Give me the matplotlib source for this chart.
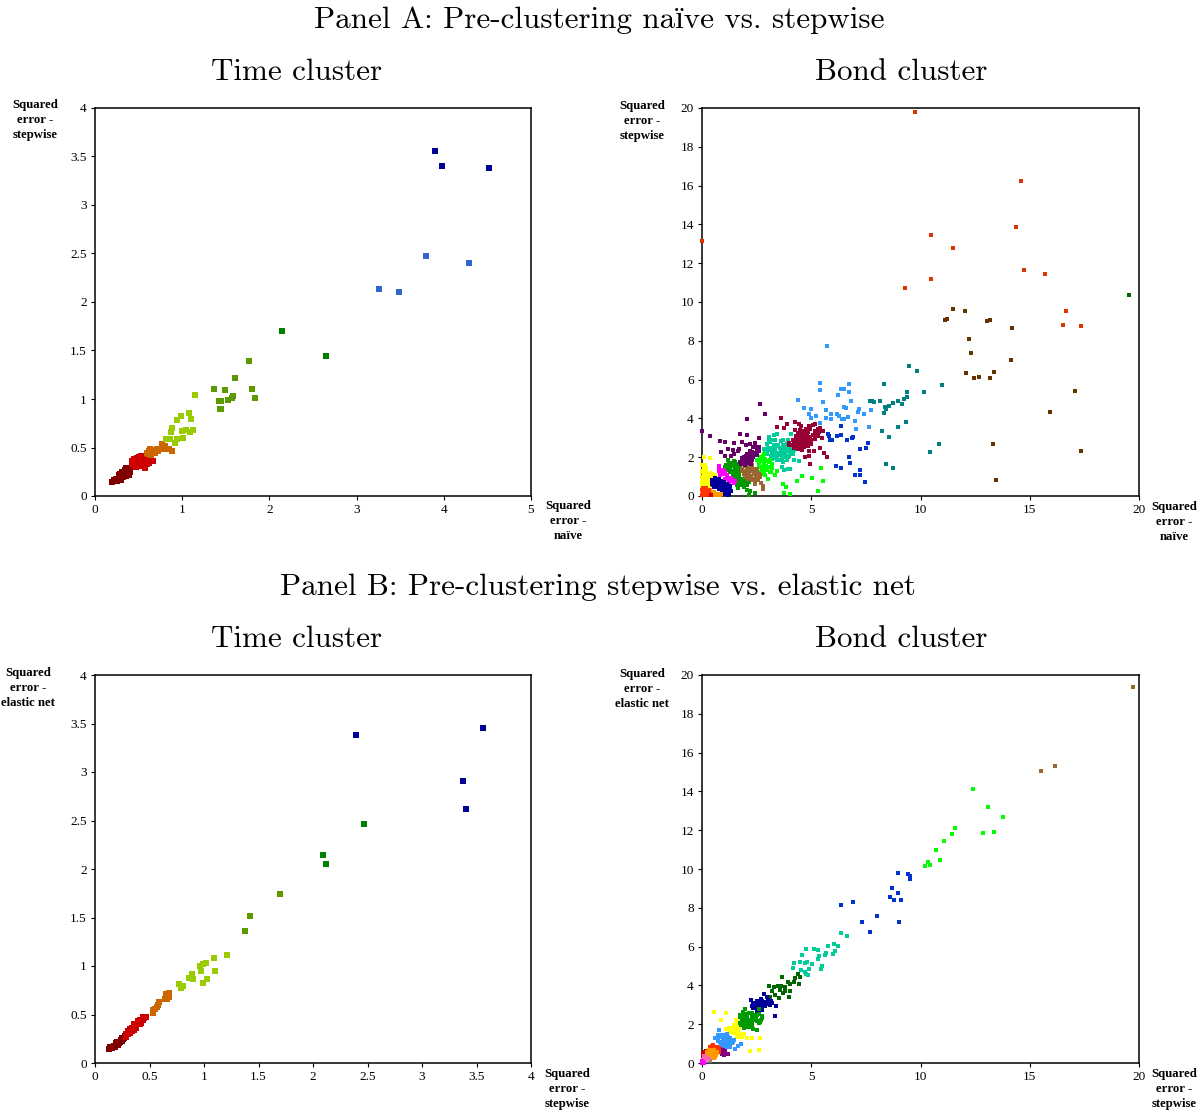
import matplotlib
matplotlib.use('Agg')
import matplotlib.pyplot as plt

plt.rcParams['font.family'] = ['Liberation Serif', 'DejaVu Serif']
plt.rcParams['axes.unicode_minus'] = False

# Panel A, time cluster (naive, stepwise)
a_time_navy = [(3.9, 3.56), (3.98, 3.40), (4.52, 3.38)]
a_time_blue = [(3.26, 2.13), (3.49, 2.10), (3.80, 2.47), (4.29, 2.40)]
a_time_green = [(2.15, 1.70), (2.65, 1.44)]
a_time_olive = [(1.37, 1.10), (1.49, 1.09), (1.77, 1.39), (1.61, 1.22), (1.80, 1.10), (1.83, 1.01), (1.58, 1.03),
                (1.57, 1.01), (1.52, 0.99), (1.44, 0.975), (1.42, 0.975), (1.44, 0.90), (1.43, 0.90)]
a_time_lime = [(1.15, 1.04), (1.08, 0.86), (0.99, 0.82), (0.94, 0.78), (1.10, 0.79), (1.12, 0.68), (1.09, 0.66),
               (1.04, 0.685), (1.0, 0.675), (0.885, 0.70), (0.87, 0.655), (0.86, 0.59), (0.81, 0.59), (1.01, 0.60),
               (0.94, 0.585), (0.915, 0.545)]
a_time_orange = [(0.77, 0.54), (0.80, 0.515), (0.775, 0.48), (0.85, 0.485), (0.885, 0.465), (0.71, 0.48), (0.67, 0.475),
                 (0.63, 0.455), (0.61, 0.43), (0.65, 0.44), (0.69, 0.44), (0.63, 0.48), (0.62, 0.46), (0.66, 0.46),
                 (0.7, 0.47), (0.6, 0.44), (0.65, 0.47), (0.72, 0.46), (0.64, 0.42)]
a_time_red = [(0.42, 0.33), (0.45, 0.38), (0.48, 0.36), (0.5, 0.4), (0.47, 0.30), (0.53, 0.41), (0.55, 0.37), (0.52, 0.32),
              (0.57, 0.29), (0.56, 0.33), (0.6, 0.39), (0.6, 0.33), (0.63, 0.36), (0.66, 0.36), (0.45, 0.32), (0.58, 0.41),
              (0.62, 0.41), (0.43, 0.36), (0.46, 0.35), (0.5, 0.35), (0.54, 0.35), (0.58, 0.35), (0.62, 0.34), (0.5, 0.31),
              (0.55, 0.41), (0.48, 0.39), (0.52, 0.37)]
a_time_maroon = [(0.2, 0.14), (0.25, 0.15), (0.24, 0.18), (0.3, 0.17), (0.28, 0.2), (0.27, 0.22), (0.32, 0.2), (0.36, 0.21),
                 (0.31, 0.25), (0.34, 0.27), (0.36, 0.29), (0.4, 0.25), (0.42, 0.3), (0.38, 0.27), (0.33, 0.23), (0.22, 0.16),
                 (0.26, 0.18), (0.29, 0.23), (0.33, 0.25), (0.35, 0.24), (0.37, 0.26), (0.4, 0.28), (0.27, 0.16), (0.3, 0.22),
                 (0.39, 0.22)]

# Panel A, bond cluster (naive, stepwise)
a_bond_dkgreen = [(19.56, 10.36)]
a_bond_rust = [(9.76, 19.81), (14.59, 16.24), (14.38, 13.85), (10.46, 13.45), (11.51, 12.77), (14.73, 11.63), (15.69, 11.44),
               (10.46, 11.17), (9.28, 10.7), (16.68, 9.55), (16.54, 8.81), (17.36, 8.75), (0.0, 13.15)]
a_bond_dkbrown = [(11.48, 9.64), (12.03, 9.52), (11.23, 9.12), (11.13, 9.07), (13.16, 9.09), (13.05, 9.02), (14.18, 8.66),
                  (12.2, 8.09), (12.33, 7.39), (14.15, 7.01), (12.09, 6.32), (13.37, 6.39), (12.7, 6.12), (12.47, 6.08),
                  (13.16, 6.08), (17.09, 5.4), (15.93, 4.31), (13.32, 2.68), (17.33, 2.3), (13.46, 0.84)]
a_bond_teal = [(9.48, 6.72), (9.86, 6.46), (8.34, 5.79), (10.99, 5.72), (9.36, 5.36), (10.18, 5.38), (9.39, 5.09), (9.25, 5.02),
               (9.15, 4.76), (8.95, 4.88), (8.75, 4.79), (8.55, 4.64), (8.38, 4.59), (8.4, 4.47), (8.34, 4.3), (8.13, 4.88),
               (7.85, 4.85), (7.77, 4.9), (7.67, 4.88), (9.33, 3.83), (8.98, 3.56), (8.26, 3.37), (8.57, 3.02), (10.85, 2.66),
               (10.44, 2.29), (8.4, 1.67), (8.73, 1.43)]
a_bond_sky = [(5.73, 7.73), (5.41, 5.81), (6.75, 5.76), (5.38, 5.46), (6.36, 5.53), (6.48, 5.5), (6.72, 5.38), (6.23, 5.19),
              (4.39, 4.95), (5.56, 4.83), (6.81, 4.91), (4.66, 4.54), (5.0, 4.47), (5.69, 4.42), (6.48, 4.59), (6.6, 4.54),
              (7.16, 4.33), (7.2, 4.5), (7.74, 4.42), (4.91, 4.21), (5.0, 4.04), (5.24, 4.11), (5.66, 4.04), (5.91, 4.23),
              (5.9, 3.95), (6.2, 4.24), (6.28, 4.12), (6.42, 3.95), (6.5, 3.99), (6.66, 4.05), (6.98, 3.87), (7.42, 4.23),
              (5.41, 3.75), (7.03, 3.45), (7.64, 3.56)]
a_bond_blue = [(6.34, 3.59), (5.75, 3.21), (5.79, 3.08), (5.84, 2.87), (5.95, 2.9), (6.17, 3.09), (6.37, 3.13), (6.62, 2.9),
               (6.89, 3.04), (6.86, 2.99), (7.61, 2.75), (7.24, 2.44), (7.52, 2.49), (6.75, 2.01), (6.78, 1.7), (6.14, 1.56),
               (6.37, 1.44), (7.24, 1.32), (7.0, 1.07), (7.23, 1.1), (7.44, 0.72)]
a_bond_crimson = [(3.61, 4.02), (3.89, 3.73), (3.43, 3.56), (3.75, 3.52), (4.25, 3.81), (4.42, 3.69), (4.54, 3.59), (4.27, 3.42),
                  (4.47, 3.38), (4.65, 3.33), (4.88, 3.59), (5.06, 3.64), (5.15, 3.69), (5.41, 3.52), (5.53, 3.33), (5.37, 3.3),
                  (5.18, 3.33), (5.3, 3.08), (5.49, 3.01), (5.06, 3.13), (4.8, 3.13), (4.6, 3.13), (4.42, 3.08), (4.6, 2.87),
                  (5.0, 2.9), (4.8, 2.78), (4.42, 2.9), (4.19, 2.78), (3.99, 2.61), (4.27, 2.61), (4.5, 2.66), (4.65, 2.53),
                  (4.39, 2.44), (4.57, 2.35), (4.88, 2.32), (5.14, 2.34), (5.41, 2.49), (5.59, 2.2), (5.73, 2.01), (4.91, 2.06),
                  (4.73, 2.01), (4.94, 1.63), (4.0, 2.75), (4.15, 2.9), (4.3, 2.75), (4.45, 2.75), (4.1, 2.65), (4.2, 2.5),
                  (4.35, 2.55), (4.55, 2.5), (4.7, 2.65), (4.85, 2.6), (4.3, 3.1), (4.5, 3.05), (4.65, 2.95), (4.8, 2.95),
                  (4.95, 3.05), (4.55, 3.3), (4.75, 3.45), (4.4, 3.25), (4.85, 3.3), (5.2, 3.15), (5.15, 2.95), (5.0, 2.7),
                  (4.55, 2.75), (4.35, 2.95), (4.7, 2.8), (5.3, 3.45), (4.95, 3.45)]
a_bond_jade = [(3.08, 3.04), (3.28, 3.13), (3.43, 3.21), (3.13, 2.78), (3.35, 2.87), (3.69, 2.9), (3.93, 2.87), (4.09, 3.21),
               (2.97, 2.66), (3.69, 2.61), (3.89, 2.7), (2.82, 2.44), (3.08, 2.35), (3.35, 2.44), (3.63, 2.35), (4.04, 2.39),
               (4.19, 2.35), (2.97, 2.18), (3.28, 2.15), (3.58, 2.1), (3.81, 2.18), (4.15, 2.15), (3.2, 1.92), (3.51, 1.84),
               (3.69, 1.75), (3.89, 1.84), (4.19, 1.84), (4.45, 1.82), (3.66, 1.49), (3.75, 1.32), (3.92, 1.39), (4.05, 1.41),
               (3.43, 2.01), (3.05, 2.5), (3.5, 2.65), (3.2, 2.25), (3.7, 2.0), (4.0, 2.05), (3.15, 2.5), (3.25, 2.3), (3.4, 2.6),
               (3.55, 2.5), (3.7, 2.45), (3.9, 2.5), (4.05, 2.55), (4.2, 2.5), (3.15, 2.05), (3.3, 1.95), (3.45, 2.2), (3.45, 1.85),
               (3.6, 2.2), (3.75, 2.3), (3.9, 2.3), (4.05, 2.25), (3.65, 1.95), (3.8, 2.05), (3.95, 2.0), (3.3, 2.65), (2.9, 2.3),
               (2.85, 2.15), (3.0, 2.45), (3.2, 2.9), (3.6, 2.85), (3.05, 2.85)]
a_bond_lime = [(5.46, 1.43), (4.56, 1.05), (5.05, 0.93), (5.55, 0.77), (4.36, 0.77), (3.72, 0.64), (3.84, 0.45), (5.32, 0.27),
               (3.73, 0.17), (4.04, 0.1), (3.43, 1.29), (3.35, 1.07), (3.03, 0.89), (2.82, 2.18), (2.67, 1.92), (2.9, 1.92),
               (2.59, 1.67), (2.82, 1.67), (3.05, 1.75), (3.13, 1.49), (2.74, 1.41), (2.97, 1.32), (3.17, 1.24), (2.82, 1.15),
               (2.52, 1.84), (3.2, 1.67), (2.95, 1.55), (2.7, 1.25), (2.7, 2.0), (2.8, 2.05), (2.6, 1.75), (2.75, 1.8), (2.95, 1.8),
               (3.1, 1.85), (2.6, 1.5), (2.75, 1.5), (3.05, 1.5), (3.2, 1.45), (2.85, 1.4), (3.1, 1.25), (2.85, 1.25), (2.9, 1.1)]
a_bond_plum = [(0.0, 3.37), (0.38, 3.09), (2.64, 4.76), (2.88, 4.24), (2.07, 3.99), (1.72, 3.21), (2.07, 3.16), (2.61, 2.99),
               (0.84, 2.82), (1.07, 2.78), (1.48, 2.75), (1.83, 2.78), (2.01, 2.65), (2.21, 2.7), (2.41, 2.75), (1.2, 2.44),
               (1.4, 2.35), (1.71, 2.44), (1.63, 2.32), (0.87, 2.25), (1.04, 2.06), (1.31, 2.06), (1.45, 2.15), (2.44, 2.53),
               (2.52, 2.35), (2.21, 2.32), (2.06, 2.18), (2.36, 2.1), (1.91, 2.01), (2.13, 1.92), (1.83, 1.8), (1.98, 1.7),
               (2.29, 1.87), (2.59, 2.32), (2.2, 2.05), (1.95, 1.85), (1.8, 1.65), (1.95, 1.6), (2.1, 1.7), (2.25, 1.65), (2.05, 1.85),
               (2.2, 1.95), (2.35, 2.0), (1.85, 1.95), (2.0, 2.05), (2.15, 2.15), (2.3, 2.25), (2.45, 2.2), (2.5, 2.1), (1.75, 1.75),
               (2.35, 2.55), (2.6, 2.55)]
a_bond_green = [(1.22, 1.67), (1.45, 1.8), (1.6, 1.67), (1.07, 1.49), (1.3, 1.41), (1.52, 1.41), (1.75, 1.55), (1.45, 1.15),
                (1.68, 1.15), (1.52, 0.98), (1.75, 0.89), (1.98, 0.81), (2.13, 0.72), (1.83, 0.64), (1.65, 0.43), (2.06, 0.29),
                (2.21, 0.26), (2.41, 0.17), (2.13, 0.03), (1.91, 0.55), (1.3, 1.25), (1.6, 1.3), (1.4, 1.55), (1.7, 0.75),
                (1.2, 1.85), (1.35, 1.7), (1.5, 1.75), (1.65, 1.5), (1.1, 1.6), (1.25, 1.55), (1.55, 1.55), (1.15, 1.35), (1.45, 1.3),
                (1.75, 1.3), (1.4, 1.05), (1.55, 1.1), (1.7, 1.0), (1.85, 0.9), (1.55, 0.85), (1.65, 0.7), (1.85, 0.75), (1.95, 0.65),
                (1.75, 0.55), (1.6, 0.55), (2.05, 0.55), (1.9, 0.45), (1.5, 0.7)]
a_bond_brown = [(1.83, 1.41), (2.06, 1.58), (2.29, 1.49), (2.52, 1.41), (2.59, 1.15), (2.36, 1.15), (2.13, 1.24), (1.91, 1.15),
                (1.98, 0.98), (2.21, 0.98), (2.44, 0.89), (2.67, 0.98), (2.41, 0.64), (2.7, 0.67), (2.79, 0.52), (2.8, 0.38),
                (2.36, 0.81), (2.25, 1.3), (2.0, 1.3), (2.4, 1.3), (1.95, 1.55), (2.15, 1.6), (2.3, 1.6), (1.85, 1.3), (2.05, 1.45),
                (2.2, 1.4), (2.35, 1.4), (2.5, 1.25), (2.65, 1.1), (2.05, 1.1), (2.25, 1.05), (2.45, 1.05), (2.3, 0.85), (2.1, 0.9),
                (2.55, 0.85)]
a_bond_magenta = [(0.79, 1.55), (0.76, 1.36), (0.91, 1.24), (1.04, 1.15), (1.14, 0.98), (1.3, 0.89), (1.45, 0.67), (0.84, 1.07),
                  (1.22, 0.72), (1.07, 0.89), (0.8, 1.3), (0.95, 1.35), (1.05, 1.25), (1.15, 1.1), (1.2, 0.95), (1.35, 0.95),
                  (1.4, 0.8), (1.5, 0.75), (1.3, 0.75), (0.9, 1.15)]
a_bond_yellow = [(0.08, 1.99), (0.35, 1.98), (0.15, 1.58), (0.08, 1.41), (0.0, 1.24), (0.23, 1.15), (0.46, 1.15), (0.61, 1.07),
                 (0.0, 0.98), (0.23, 0.89), (0.0, 0.72), (0.15, 0.64), (0.38, 0.72), (0.08, 0.38), (0.3, 0.46), (0.12, 1.05),
                 (0.35, 1.0), (0.1, 0.8), (0.0, 0.5), (0.0, 1.6), (0.1, 1.5), (0.2, 1.45), (0.05, 1.3), (0.2, 1.25), (0.35, 1.2),
                 (0.5, 1.1), (0.6, 1.05), (0.1, 1.1), (0.3, 1.05), (0.45, 0.95), (0.05, 0.9), (0.2, 0.8), (0.35, 0.8), (0.05, 0.6),
                 (0.2, 0.55), (0.3, 0.6)]
a_bond_navy = [(0.61, 0.81), (0.76, 0.89), (0.46, 0.64), (0.69, 0.55), (0.91, 0.64), (1.14, 0.64), (1.3, 0.46), (0.84, 0.38),
               (1.07, 0.29), (1.22, 0.12), (0.99, 0.12), (1.34, 0.26), (0.53, 0.46), (1.0, 0.45), (0.6, 0.65), (0.45, 0.8), (0.6, 0.95),
               (0.75, 0.9), (0.55, 0.7), (0.7, 0.75), (0.85, 0.75), (1.0, 0.7), (1.15, 0.55), (1.3, 0.5), (0.5, 0.55), (0.65, 0.45),
               (0.8, 0.55), (0.95, 0.5), (1.1, 0.4), (1.25, 0.35), (0.8, 0.35), (0.95, 0.3), (1.1, 0.2), (1.25, 0.2), (0.9, 0.18),
               (1.05, 0.1), (1.2, 0.05)]
a_bond_amber = [(0.53, 0.21), (0.69, 0.12), (0.38, 0.29), (0.84, 0.03), (0.6, 0.03), (0.45, 0.2), (0.55, 0.1), (0.7, 0.05), (0.85, 0.1)]
a_bond_scarlet = [(0.0, 0.29), (0.15, 0.15), (0.0, 0.03), (0.3, 0.12), (0.15, 0.03), (0.1, 0.3), (0.05, 0.4), (0.2, 0.4), (0.3, 0.3),
                  (0.35, 0.1), (0.1, 0.2), (0.25, 0.2), (0.2, 0.05), (0.05, 0.15)]
a_bond_dkred = [(0.43, 0.03)]

# Panel B, time cluster (stepwise, elastic net)
b_time_navy = [(2.39, 3.38), (3.38, 2.91), (3.40, 2.62), (3.56, 3.45)]
b_time_green = [(2.09, 2.14), (2.12, 2.05), (2.47, 2.46)]
b_time_olive = [(1.42, 1.52), (1.38, 1.36), (1.70, 1.74)]
b_time_lime = [(1.21, 1.11), (1.09, 1.08), (1.02, 1.03), (0.99, 1.02), (0.96, 1.0), (0.97, 0.95), (1.10, 0.95), (1.03, 0.87),
               (0.99, 0.82), (0.89, 0.92), (0.86, 0.88), (0.90, 0.865), (0.77, 0.81), (0.805, 0.79), (0.79, 0.77)]
b_time_orange = [(0.68, 0.72), (0.655, 0.715), (0.66, 0.66), (0.64, 0.655), (0.585, 0.63), (0.57, 0.58), (0.535, 0.545), (0.535, 0.52),
                 (0.58, 0.6), (0.55, 0.56), (0.66, 0.7), (0.68, 0.68)]
b_time_red = [(0.47, 0.47), (0.44, 0.47), (0.41, 0.44), (0.38, 0.39), (0.42, 0.41), (0.34, 0.36), (0.305, 0.325), (0.36, 0.34),
              (0.32, 0.31), (0.39, 0.43), (0.36, 0.4), (0.32, 0.35), (0.28, 0.3), (0.3, 0.3), (0.34, 0.33), (0.38, 0.36), (0.41, 0.4),
              (0.44, 0.44), (0.45, 0.46), (0.28, 0.27)]
b_time_maroon = [(0.13, 0.147), (0.15, 0.16), (0.17, 0.18), (0.19, 0.19), (0.2, 0.22), (0.22, 0.21), (0.24, 0.24), (0.275, 0.28),
                 (0.25, 0.26), (0.16, 0.15), (0.14, 0.17), (0.18, 0.16), (0.21, 0.19), (0.23, 0.22), (0.26, 0.25), (0.19, 0.21),
                 (0.25, 0.23), (0.27, 0.26), (0.17, 0.16)]

# Panel B, bond cluster (stepwise, elastic net)
b_bond_brown = [(19.73, 19.38), (15.51, 15.05), (16.16, 15.31)]
b_bond_lime = [(12.4, 14.1), (13.09, 13.2), (13.78, 12.68), (12.86, 11.86), (13.36, 11.9), (11.58, 12.1), (11.44, 11.8),
               (11.08, 11.44), (10.71, 10.98), (10.89, 10.46), (10.34, 10.36), (10.2, 10.15), (10.43, 10.2)]
b_bond_blue = [(8.97, 9.79), (9.43, 9.74), (9.52, 9.64), (9.5, 9.5), (8.7, 9.02), (8.95, 8.76), (8.61, 8.56), (8.78, 8.4), (9.09, 8.4),
               (6.92, 8.32), (6.34, 8.13), (8.02, 7.59), (7.3, 7.27), (9.01, 7.27), (7.71, 6.74)]
b_bond_jade = [(6.37, 6.7), (6.65, 6.55), (6.22, 6.01), (6.04, 6.12), (5.75, 6.01), (5.11, 5.86), (4.77, 5.88), (5.32, 5.81),
               (5.69, 5.69), (6.07, 5.77), (6.0, 5.62), (5.64, 5.57), (5.37, 5.52), (5.32, 5.34), (4.59, 5.57), (4.19, 5.15),
               (4.5, 5.22), (4.8, 5.22), (4.73, 5.14), (5.03, 5.1), (4.15, 4.91), (4.53, 4.79), (4.88, 4.85), (5.49, 5.0),
               (5.46, 4.85), (4.73, 4.71), (4.85, 4.55), (4.77, 4.57)]
b_bond_dkgreen = [(3.64, 4.42), (4.39, 4.59), (4.5, 4.45), (4.27, 4.36), (4.19, 4.19), (4.42, 4.07), (3.92, 4.19), (3.78, 3.93),
                  (4.01, 3.71), (3.48, 3.97), (3.31, 3.9), (3.05, 3.99), (3.2, 3.71), (3.58, 3.76), (3.81, 3.71), (3.35, 3.51),
                  (3.13, 3.42), (3.51, 3.33), (3.98, 3.38), (3.69, 3.59), (4.05, 4.05), (3.6, 3.95)]
b_bond_navy = [(2.82, 3.57), (2.23, 3.25), (2.7, 3.28), (2.97, 3.38), (2.44, 3.11), (2.9, 3.16), (3.17, 3.21), (3.4, 2.96),
               (2.29, 2.94), (2.59, 2.9), (2.82, 2.94), (3.13, 2.99), (2.52, 2.65), (2.74, 2.73), (3.32, 2.41), (2.36, 2.82),
               (2.6, 3.05), (2.95, 3.05), (2.35, 2.85), (2.5, 2.75), (2.65, 2.85), (2.8, 3.05), (2.95, 3.15), (2.45, 2.95), (2.6, 3.0),
               (2.75, 2.85), (2.9, 2.95), (3.05, 3.05), (3.0, 3.25), (2.5, 3.2), (2.35, 3.1), (2.75, 3.2), (2.6, 2.65), (3.2, 3.1),
               (2.65, 3.15)]
b_bond_green = [(1.98, 2.78), (1.88, 2.65), (1.72, 2.46), (2.59, 2.78), (2.29, 2.56), (2.06, 2.39), (1.83, 2.22), (2.21, 2.22),
                (2.44, 2.3), (2.74, 2.42), (2.67, 2.13), (1.98, 1.96), (2.29, 2.04), (2.32, 1.74), (2.52, 1.7), (1.91, 1.79),
                (1.75, 2.04), (2.59, 2.04), (2.0, 2.15), (2.4, 2.45), (1.75, 2.35), (1.85, 2.45), (1.95, 2.55), (2.15, 2.6), (2.3, 2.35),
                (2.5, 2.5), (2.6, 2.55), (1.9, 2.3), (2.05, 2.2), (2.2, 2.05), (2.35, 2.2), (2.5, 2.15), (1.85, 2.1), (2.0, 2.05),
                (2.15, 1.95), (2.3, 1.9), (1.8, 1.95), (2.05, 1.85), (2.2, 1.85), (2.7, 2.2), (2.75, 2.3), (2.45, 2.35)]
b_bond_yellow = [(0.56, 2.65), (1.11, 2.56), (0.87, 2.22), (1.6, 2.13), (1.45, 1.96), (1.14, 1.75), (1.3, 1.7), (1.52, 1.7),
                 (1.68, 1.79), (1.45, 1.53), (1.68, 1.44), (1.91, 1.49), (2.06, 1.31), (2.27, 1.31), (2.65, 1.31), (2.21, 0.64),
                 (2.61, 0.69), (1.83, 1.32), (1.6, 1.36), (1.1, 1.75), (1.25, 1.8), (1.4, 1.8), (1.55, 1.85), (1.6, 2.0), (1.55, 2.2),
                 (1.35, 1.6), (1.5, 1.55), (1.65, 1.6), (1.8, 1.5), (1.6, 1.4), (1.75, 1.35), (1.45, 1.7)]
b_bond_sky = [(0.79, 1.68), (0.61, 1.31), (0.91, 1.36), (1.14, 1.49), (1.3, 1.27), (0.84, 1.1), (1.07, 1.01), (1.37, 1.01),
              (1.45, 1.19), (1.22, 0.89), (1.78, 0.96), (1.65, 0.89), (1.52, 0.72), (0.73, 1.45), (1.05, 1.25), (0.75, 1.3),
              (0.9, 1.45), (1.05, 1.45), (1.2, 1.35), (0.95, 1.25), (1.1, 1.2), (1.25, 1.15), (1.4, 1.1), (0.75, 1.15), (0.9, 1.05),
              (1.05, 1.05), (1.2, 1.0), (1.3, 0.85), (1.15, 0.8), (1.0, 0.9), (0.85, 0.95)]
b_bond_purple = [(0.99, 0.76), (0.84, 0.67), (1.07, 0.58), (0.99, 0.41), (1.17, 0.45), (0.91, 0.89), (0.9, 0.75), (1.05, 0.7),
                 (1.0, 0.55), (0.9, 0.45), (1.15, 0.45), (0.85, 0.55)]
b_bond_scarlet = [(0.46, 0.89), (0.61, 0.84), (0.76, 0.76), (0.38, 0.67), (0.79, 0.58), (0.35, 0.8), (0.5, 0.95), (0.7, 0.85), (0.75, 0.7)]
b_bond_dkred = [(0.15, 0.5), (0.3, 0.33), (0.08, 0.33), (0.05, 0.45), (0.1, 0.55), (0.2, 0.62)]
b_bond_amber = [(0.3, 0.67), (0.53, 0.67), (0.69, 0.5), (0.38, 0.41), (0.61, 0.33), (0.46, 0.24), (0.23, 0.5), (0.25, 0.55), (0.4, 0.6),
                (0.55, 0.6), (0.7, 0.55), (0.3, 0.4), (0.5, 0.45), (0.65, 0.4), (0.4, 0.3), (0.55, 0.28), (0.45, 0.65)]
b_bond_gray = [(0.35, 0.08)]
b_bond_pink = [(0.08, 0.24), (0.15, 0.15), (0.0, 0.07), (0.25, 0.25), (0.1, 0.35), (0.2, 0.3), (0.3, 0.2), (0.05, 0.15), (0.15, 0.08)]
b_bond_magenta = [(0.0, 0.02), (0.05, 0.03), (0.0, 0.1), (0.0, 0.0), (0.1, 0.0)]

TICKS_HALF = [0, 0.5, 1, 1.5, 2, 2.5, 3, 3.5, 4]
TICKS_ONE = [0, 1, 2, 3, 4, 5]
TICKS_FIVE = [0, 5, 10, 15, 20]
TICKS_TWO = [0, 2, 4, 6, 8, 10, 12, 14, 16, 18, 20]

W, H = 1204, 1113
TITLE_FONT = ['cmr10', 'Liberation Serif']

fig = plt.figure(figsize=(W / 100, H / 100), dpi=100)


def panel(box, series, xticks, yticks, size, ylab, xlab):
    # box is left, top, right, bottom in pixels
    l, t, r, b = box
    ax = fig.add_axes([l / W, 1 - b / H, (r - l) / W, (b - t) / H])
    for pts, col in series:
        ax.scatter([p[0] for p in pts], [p[1] for p in pts], s=size, marker='s', color=col,
                   linewidths=0, clip_on=False, zorder=3)
    ax.set_xlim(xticks[0], xticks[-1])
    ax.set_ylim(yticks[0], yticks[-1])
    ax.set_xticks(xticks)
    ax.set_yticks(yticks)
    ax.set_xticklabels(['%g' % v for v in xticks])
    ax.set_yticklabels(['%g' % v for v in yticks])
    ax.tick_params(labelsize=9.5, length=3, width=0.8, pad=3)
    for s in ax.spines.values():
        s.set_linewidth(1.1)
    for x, y, txt in (ylab, xlab):
        fig.text(x / W, 1 - y / H, txt, ha='center', va='center', fontsize=9.2,
                 fontweight='bold', linespacing=1.29)
    return ax


def heading(x, y, txt):
    fig.text(x / W, 1 - y / H, txt, ha='center', va='center', fontsize=22.4, family=TITLE_FONT)


heading(599, 20, 'Panel A: Pre-clustering na\u00efve vs. stepwise')
heading(297, 72, 'Time cluster')
heading(901, 72, 'Bond cluster')
heading(598, 587, 'Panel B: Pre-clustering stepwise vs. elastic net')
heading(297, 639, 'Time cluster')
heading(901, 639, 'Bond cluster')

panel((95, 108, 531, 496),
      [(a_time_maroon, '#800000'), (a_time_red, '#cc0000'), (a_time_orange, '#cc6600'), (a_time_lime, '#99cc00'),
       (a_time_olive, '#5f9900'), (a_time_green, '#008000'), (a_time_blue, '#3366cc'), (a_time_navy, '#000099')],
      TICKS_ONE, TICKS_HALF, 24, (35, 120, 'Squared\nerror -\nstepwise'), (568, 521, 'Squared\nerror -\nna\u00efve'))

panel((702, 108, 1139, 496),
      [(a_bond_dkgreen, '#006600'), (a_bond_rust, '#dd3300'), (a_bond_dkbrown, '#663300'), (a_bond_teal, '#008080'),
       (a_bond_sky, '#3399ff'), (a_bond_blue, '#0033cc'), (a_bond_jade, '#00cc99'), (a_bond_crimson, '#990033'),
       (a_bond_lime, '#00ff00'), (a_bond_green, '#009900'), (a_bond_brown, '#996633'), (a_bond_plum, '#660066'),
       (a_bond_magenta, '#ff00ff'), (a_bond_yellow, '#ffff00'), (a_bond_navy, '#000099'), (a_bond_amber, '#ff9900'),
       (a_bond_scarlet, '#ff3300'), (a_bond_dkred, '#cc0000')],
      TICKS_FIVE, TICKS_TWO, 10.5, (642, 121, 'Squared\nerror -\nstepwise'), (1174, 522, 'Squared\nerror -\nna\u00efve'))

panel((95, 675, 531, 1063),
      [(b_time_maroon, '#800000'), (b_time_red, '#cc0000'), (b_time_orange, '#cc6600'), (b_time_lime, '#99cc00'),
       (b_time_olive, '#5f9900'), (b_time_green, '#008000'), (b_time_navy, '#000099')],
      TICKS_HALF, TICKS_HALF, 24, (28, 688, 'Squared\nerror -\nelastic net'), (567, 1089, 'Squared\nerror -\nstepwise'))

panel((702, 675, 1139, 1063),
      [(b_bond_brown, '#996633'), (b_bond_lime, '#00ff00'), (b_bond_blue, '#0033cc'), (b_bond_jade, '#00cc99'),
       (b_bond_dkgreen, '#006600'), (b_bond_navy, '#000099'), (b_bond_yellow, '#ffff00'), (b_bond_green, '#009900'),
       (b_bond_purple, '#800080'), (b_bond_sky, '#3399ff'), (b_bond_scarlet, '#ff3300'), (b_bond_dkred, '#cc0000'),
       (b_bond_amber, '#ff9900'), (b_bond_gray, '#808080'), (b_bond_pink, '#ff66aa'), (b_bond_magenta, '#ff00ff')],
      TICKS_FIVE, TICKS_TWO, 10.5, (642, 689, 'Squared\nerror -\nelastic net'), (1174, 1089, 'Squared\nerror -\nstepwise'))

fig.savefig('out.png', dpi=100)
